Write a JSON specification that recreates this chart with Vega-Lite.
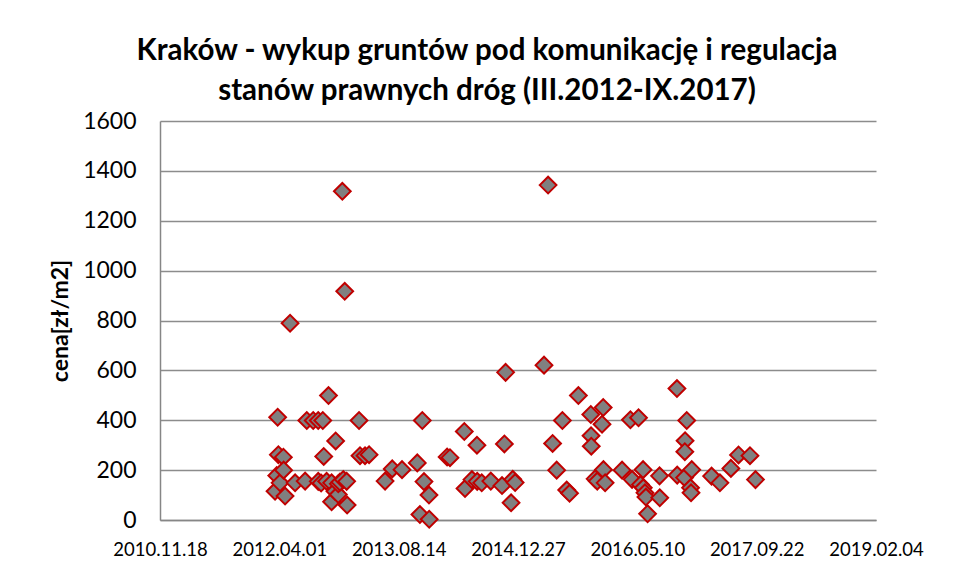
{
  "$schema": "https://vega.github.io/schema/vega-lite/v6.json",
  "width": 716,
  "height": 399,
  "autosize": {"type": "none"},
  "padding": {"left": 160, "top": 121, "right": 79, "bottom": 58},
  "background": "white",
  "title": {
    "text": ["Kraków - wykup gruntów pod komunikację i regulacja", "stanów prawnych dróg (III.2012-IX.2017)"],
    "font": "Lato",
    "fontSize": 29.5,
    "fontWeight": "bold",
    "color": "#000000",
    "anchor": "middle",
    "lineHeight": 40,
    "offset": 4,
    "dx": -31
  },
  "config": {
    "view": {"stroke": null},
    "axis": {"labelFont": "Lato", "titleFont": "Lato", "labelColor": "#000000", "titleColor": "#000000"}
  },
  "data": {
    "values": [
      {"date": "2012-03-14", "cena": 115},
      {"date": "2012-03-21", "cena": 178},
      {"date": "2012-03-25", "cena": 412},
      {"date": "2012-04-04", "cena": 149},
      {"date": "2012-03-28", "cena": 262},
      {"date": "2012-04-18", "cena": 252},
      {"date": "2012-04-19", "cena": 200},
      {"date": "2012-04-25", "cena": 96},
      {"date": "2012-05-16", "cena": 789},
      {"date": "2012-06-06", "cena": 149},
      {"date": "2012-07-18", "cena": 156},
      {"date": "2012-07-25", "cena": 399},
      {"date": "2012-08-21", "cena": 399},
      {"date": "2012-09-11", "cena": 399},
      {"date": "2012-09-30", "cena": 399},
      {"date": "2012-09-11", "cena": 155},
      {"date": "2012-09-23", "cena": 148},
      {"date": "2012-10-04", "cena": 255},
      {"date": "2012-10-16", "cena": 155},
      {"date": "2012-10-24", "cena": 499},
      {"date": "2012-11-06", "cena": 149},
      {"date": "2012-11-06", "cena": 73},
      {"date": "2012-11-23", "cena": 317},
      {"date": "2012-11-20", "cena": 115},
      {"date": "2012-12-04", "cena": 102},
      {"date": "2012-12-04", "cena": 145},
      {"date": "2012-12-11", "cena": 152},
      {"date": "2012-12-21", "cena": 1318},
      {"date": "2012-12-25", "cena": 162},
      {"date": "2012-12-31", "cena": 917},
      {"date": "2013-01-08", "cena": 155},
      {"date": "2013-01-10", "cena": 60},
      {"date": "2013-03-01", "cena": 399},
      {"date": "2013-03-05", "cena": 258},
      {"date": "2013-03-26", "cena": 258},
      {"date": "2013-04-12", "cena": 262},
      {"date": "2013-06-18", "cena": 156},
      {"date": "2013-07-18", "cena": 205},
      {"date": "2013-08-28", "cena": 202},
      {"date": "2013-10-31", "cena": 229},
      {"date": "2013-11-21", "cena": 399},
      {"date": "2013-11-28", "cena": 154},
      {"date": "2013-12-19", "cena": 100},
      {"date": "2013-11-11", "cena": 22},
      {"date": "2013-12-20", "cena": 3},
      {"date": "2014-03-05", "cena": 253},
      {"date": "2014-03-17", "cena": 250},
      {"date": "2014-05-16", "cena": 355},
      {"date": "2014-05-19", "cena": 126},
      {"date": "2014-06-17", "cena": 162},
      {"date": "2014-07-08", "cena": 300},
      {"date": "2014-07-09", "cena": 155},
      {"date": "2014-07-28", "cena": 149},
      {"date": "2014-09-04", "cena": 156},
      {"date": "2014-10-21", "cena": 138},
      {"date": "2014-10-31", "cena": 305},
      {"date": "2014-11-05", "cena": 592},
      {"date": "2014-11-28", "cena": 69},
      {"date": "2014-12-05", "cena": 163},
      {"date": "2014-12-15", "cena": 150},
      {"date": "2015-04-15", "cena": 621},
      {"date": "2015-05-02", "cena": 1343},
      {"date": "2015-05-21", "cena": 307},
      {"date": "2015-06-07", "cena": 200},
      {"date": "2015-07-01", "cena": 399},
      {"date": "2015-07-19", "cena": 120},
      {"date": "2015-07-31", "cena": 107},
      {"date": "2015-09-06", "cena": 499},
      {"date": "2015-10-28", "cena": 423},
      {"date": "2015-10-29", "cena": 338},
      {"date": "2015-10-30", "cena": 296},
      {"date": "2015-12-19", "cena": 451},
      {"date": "2015-12-14", "cena": 384},
      {"date": "2015-11-15", "cena": 165},
      {"date": "2015-11-24", "cena": 156},
      {"date": "2015-12-20", "cena": 202},
      {"date": "2015-12-27", "cena": 149},
      {"date": "2016-03-07", "cena": 200},
      {"date": "2016-04-11", "cena": 402},
      {"date": "2016-05-15", "cena": 410},
      {"date": "2016-04-18", "cena": 163},
      {"date": "2016-06-03", "cena": 202},
      {"date": "2016-05-23", "cena": 142},
      {"date": "2016-06-04", "cena": 129},
      {"date": "2016-06-11", "cena": 109},
      {"date": "2016-06-15", "cena": 92},
      {"date": "2016-06-22", "cena": 25},
      {"date": "2016-08-11", "cena": 177},
      {"date": "2016-08-12", "cena": 89},
      {"date": "2016-10-23", "cena": 527},
      {"date": "2016-10-24", "cena": 180},
      {"date": "2016-11-24", "cena": 170},
      {"date": "2016-12-03", "cena": 399},
      {"date": "2016-11-26", "cena": 318},
      {"date": "2016-11-25", "cena": 274},
      {"date": "2016-12-24", "cena": 202},
      {"date": "2016-12-19", "cena": 129},
      {"date": "2016-12-21", "cena": 109},
      {"date": "2017-03-17", "cena": 176},
      {"date": "2017-04-21", "cena": 149},
      {"date": "2017-06-06", "cena": 207},
      {"date": "2017-07-08", "cena": 261},
      {"date": "2017-08-25", "cena": 258},
      {"date": "2017-09-17", "cena": 162}
    ]
  },
  "mark": {"type": "point", "shape": "diamond", "filled": true, "fill": "#808080", "stroke": "#C00000", "strokeWidth": 2, "size": 280, "opacity": 1},
  "encoding": {
    "x": {
      "field": "date",
      "type": "temporal",
      "scale": {
        "type": "utc",
        "domain": [{"year": 2010, "month": 11, "date": 18, "utc": true}, {"year": 2019, "month": 2, "date": 4, "utc": true}],
        "nice": false
      },
      "axis": {
        "title": null,
        "values": [
          {"year": 2010, "month": 11, "date": 18, "utc": true},
          {"year": 2012, "month": 4, "date": 1, "utc": true},
          {"year": 2013, "month": 8, "date": 14, "utc": true},
          {"year": 2014, "month": 12, "date": 27, "utc": true},
          {"year": 2016, "month": 5, "date": 10, "utc": true},
          {"year": 2017, "month": 9, "date": 22, "utc": true},
          {"year": 2019, "month": 2, "date": 4, "utc": true}
        ],
        "format": "%Y.%m.%d",
        "grid": false,
        "ticks": false,
        "domainColor": "#868686",
        "domainWidth": 1.5,
        "labelFontSize": 18.5,
        "labelPadding": 20,
        "labelFlush": false,
        "labelOverlap": false
      }
    },
    "y": {
      "field": "cena",
      "type": "quantitative",
      "scale": {"domain": [0, 1600], "nice": false},
      "axis": {
        "title": "cena[zł/m2]",
        "titleFontSize": 23,
        "titleFontWeight": "bold",
        "titlePadding": 10,
        "values": [0, 200, 400, 600, 800, 1000, 1200, 1400, 1600],
        "format": "d",
        "grid": true,
        "gridColor": "#8c8c8c",
        "gridWidth": 1.5,
        "ticks": false,
        "domainColor": "#868686",
        "domainWidth": 1.5,
        "labelFontSize": 23,
        "labelPadding": 24,
        "labelFlush": false,
        "labelOverlap": false
      }
    }
  }
}
